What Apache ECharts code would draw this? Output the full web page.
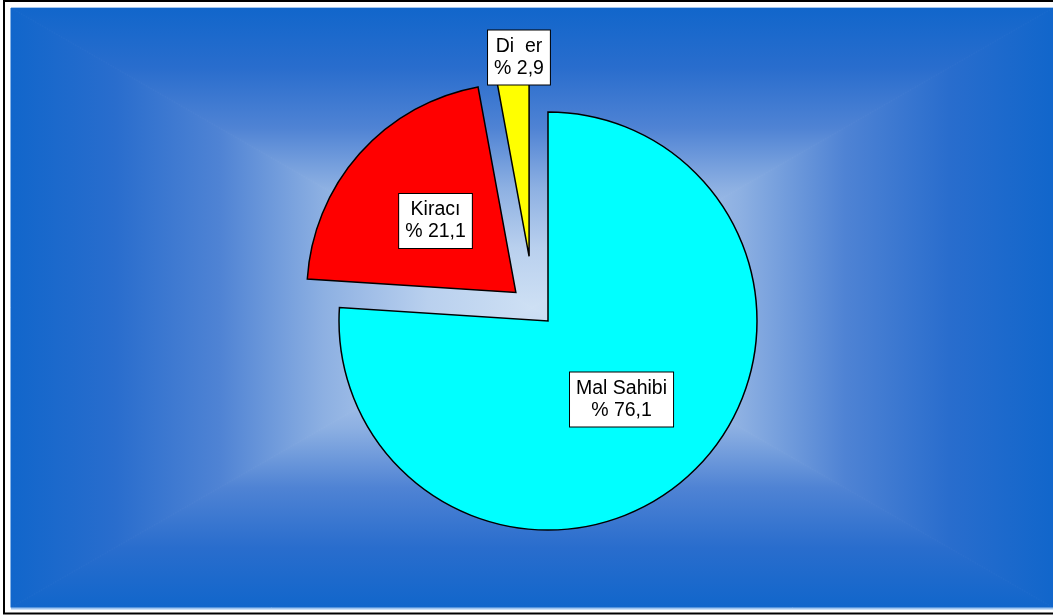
<!DOCTYPE html>
<html><head><meta charset="utf-8">
<script src="https://cdn.jsdelivr.net/npm/echarts@6/dist/echarts.min.js"></script>
<style>html,body{margin:0;padding:0;background:#fff}#c{width:1053px;height:615px}</style>
</head><body><div id="c"></div>
<script>
// ---- data ----
const categories = ['Mal Sahibi', 'Kiracı', 'Di  er'];
const shares = [76.1, 21.1, 2.9];
const sliceColors = ['#00FFFF', '#FF0000', '#FFFF00'];

// ---- layout / style ----
const chart = echarts.init(document.getElementById('c'), null, {renderer: 'canvas'});
const bx0 = 11, by0 = 8, bx1 = 1053, by1 = 607.5;
const gcx = (bx0 + bx1) / 2, gcy = (by0 + by1) / 2;
const stops = [
  {offset: 0, color: '#1166CB'},
  {offset: 0.2, color: '#296DCD'},
  {offset: 0.4, color: '#4F83D4'},
  {offset: 0.6, color: '#8DB0E2'},
  {offset: 0.8, color: '#B9D0EE'},
  {offset: 1, color: '#CEE0F4'}
];
function grad(x, y, x2, y2) { return {type: 'linear', x: x, y: y, x2: x2, y2: y2, colorStops: stops, global: false}; }
function tri(points, g) {
  return {type: 'polygon', z: 0, silent: true, shape: {points: points},
    style: {fill: g, stroke: g, lineWidth: 1}};
}
const fontFamily = '"Liberation Sans", Arial, sans-serif';
const R = 209;

function fmt(p) {
  return p.name + '\n% ' + p.value.toFixed(1).replace('.', ',');
}

function makeSeries(visibleIdx, center, radius, offset, drawSlice, showLabel) {
  return {
    type: 'pie',
    center: center,
    radius: radius,
    startAngle: 90,
    clockwise: true,
    selectedMode: 'single',
    selectedOffset: offset,
    avoidLabelOverlap: false,
    animation: false,
    silent: true,
    labelLine: {show: false},
    emphasis: {disabled: true},
    label: {
      position: 'inside',
      formatter: fmt,
      backgroundColor: '#ffffff',
      borderColor: '#000000',
      borderWidth: 1,
      padding: [6, 6, 4, 6],
      color: '#000000',
      fontFamily: fontFamily,
      fontSize: 19.5,
      lineHeight: 22,
      align: 'center'
    },
    data: categories.map(function (n, i) {
      const vis = (i === visibleIdx);
      return {
        name: n,
        value: shares[i],
        selected: vis && offset > 0,
        itemStyle: (vis && drawSlice)
          ? {color: sliceColors[i], borderColor: '#000000', borderWidth: 1.5, borderJoin: 'miter'}
          : {color: 'rgba(0,0,0,0)', borderWidth: 0},
        label: {show: vis && showLabel}
      };
    })
  };
}

const option = {
  backgroundColor: '#ffffff',
  animation: false,
  graphic: [
    tri([[bx0, by0], [bx1, by0], [gcx, gcy]], grad(0, 0, 0, 1)),
    tri([[bx0, by1], [bx1, by1], [gcx, gcy]], grad(0, 1, 0, 0)),
    tri([[bx0, by0], [bx0, by1], [gcx, gcy]], grad(0, 0, 1, 0)),
    tri([[bx1, by0], [bx1, by1], [gcx, gcy]], grad(1, 0, 0, 0)),
    {type: 'line', z: 1, silent: true, shape: {x1: bx0, y1: 608.5, x2: 1053, y2: 608.5}, style: {stroke: '#9EC4EF', lineWidth: 2}},
    {type: 'line', z: 1, silent: true, shape: {x1: bx0, y1: 7.5, x2: 1053, y2: 7.5}, style: {stroke: '#A8C9EE', lineWidth: 1}},
    {type: 'rect', z: 1, silent: true, shape: {x: 4, y: 1, width: 1070, height: 612.5}, style: {fill: null, stroke: '#000000', lineWidth: 2}}
  ],
  series: [
    makeSeries(0, [548, 321], R, 0, true, true),
    makeSeries(1, [548, 321], R, 43, true, true),
    makeSeries(2, [535, 321], R, 65, true, false),
    makeSeries(2, [543, 321], [188, 205], 65, false, true)
  ]
};
chart.setOption(option);
</script>
</body></html>
